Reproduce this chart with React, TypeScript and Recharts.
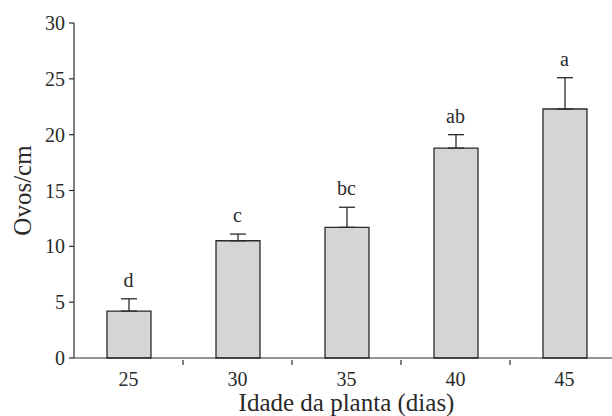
import { ComposedChart, Bar, Line, XAxis, YAxis, ErrorBar, LabelList } from 'recharts';

const ages = ['25', '30', '35', '40', '45'];
const means = [4.2, 10.5, 11.7, 18.8, 22.3];
const errors = [1.1, 0.6, 1.8, 1.2, 2.8];
const letters = ['d', 'c', 'bc', 'ab', 'a'];
const yTicks = [0, 5, 10, 15, 20, 25, 30];

const CHART_W = 620;
const CHART_H = 416;
const LEFT = 74;
const RIGHT = 1;
const PLOT_W = CHART_W - LEFT - RIGHT;
const BAND = PLOT_W / ages.length;
const FONT = '"Liberation Serif", "Times New Roman", serif';
const INK = '#2a2a2a';

const data = ages.map((age, i) => ({
  age,
  mean: means[i],
  err: [0, errors[i]],
  upper: means[i] + errors[i],
  letter: letters[i],
}));

function AgeTick(props: any) {
  const { x, y, payload, index } = props;
  return (
    <g>
      {index > 0 && (
        <line x1={x - BAND / 2} x2={x - BAND / 2} y1={y} y2={y + 5} stroke={INK} strokeWidth={1.2} />
      )}
      <text x={x} y={y + 26} textAnchor="middle" fontFamily={FONT} fontSize={20} fill={INK}>
        {payload.value}
      </text>
    </g>
  );
}

export default function App() {
  return (
    <div style={{ position: 'fixed', left: 0, top: 0, width: 612, height: 416, overflow: 'hidden', background: '#fff' }}>
      <ComposedChart
        width={CHART_W}
        height={CHART_H}
        data={data}
        margin={{ top: 23, right: RIGHT, bottom: 0, left: 0 }}
      >
        <XAxis
          dataKey="age"
          height={58}
          tickLine={false}
          tickSize={0}
          tick={<AgeTick />}
          axisLine={{ stroke: INK, strokeWidth: 1.2 }}
          label={{
            content: (p: any) => {
              const vb = p.viewBox;
              return (
                <text x={vb.x + vb.width / 2} y={vb.y + 53} textAnchor="middle" fontFamily={FONT} fontSize={25} fill={INK}>
                  Idade da planta (dias)
                </text>
              );
            },
          }}
        />
        <YAxis
          width={LEFT}
          domain={[0, 30]}
          ticks={yTicks}
          interval={0}
          tickSize={5}
          tickMargin={4}
          tick={{ fontFamily: FONT, fontSize: 20, fill: INK }}
          tickLine={{ stroke: INK, strokeWidth: 1.2 }}
          axisLine={{ stroke: INK, strokeWidth: 1.2 }}
          label={{
            content: (p: any) => {
              const vb = p.viewBox;
              const cx = vb.x + 22;
              const cy = vb.y + vb.height / 2;
              return (
                <text
                  x={cx}
                  y={cy}
                  transform={`rotate(-90 ${cx} ${cy})`}
                  textAnchor="middle"
                  dominantBaseline="central"
                  fontFamily={FONT}
                  fontSize={25}
                  fill={INK}
                >
                  Ovos/cm
                </text>
              );
            },
          }}
        />
        <Bar dataKey="mean" barSize={44} fill="#d4d5d7" stroke={INK} strokeWidth={1.3} isAnimationActive={false}>
          <ErrorBar dataKey="err" direction="y" width={8} stroke={INK} strokeWidth={1.3} />
        </Bar>
        <Line dataKey="upper" stroke="none" dot={false} activeDot={false} isAnimationActive={false}>
          <LabelList dataKey="letter" position="top" offset={12} fontFamily={FONT} fontSize={20} fill={INK} />
        </Line>
      </ComposedChart>
    </div>
  );
}
